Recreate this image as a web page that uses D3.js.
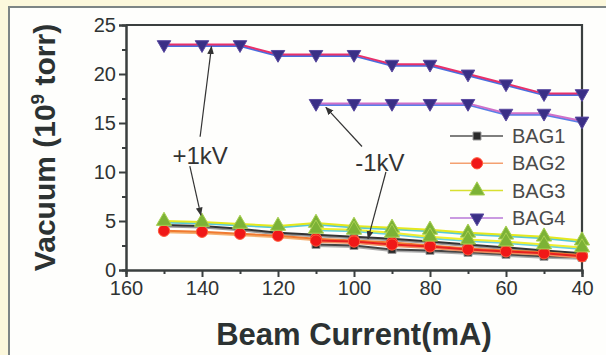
<!DOCTYPE html>
<html>
<head>
<meta charset="utf-8">
<script src="https://cdn.jsdelivr.net/npm/d3@7"></script>
<style>
  body { margin: 0; background: #fcf8dc; }
  svg { display: block; font-family: "Liberation Sans", Arial, sans-serif; }
</style>
</head>
<body>
<div id="chart"></div>
<script>
const margin = {top: 25, right: 24, bottom: 85, left: 126};
const width = 606 - margin.left - margin.right;
const height = 355 - margin.top - margin.bottom;

// beam current (mA)
const currentPlus = [150, 140, 130, 120, 110, 100, 90, 80, 70, 60, 50, 40];
const currentMinus = [110, 100, 90, 80, 70, 60, 50, 40];

// +1kV
const bag1Plus = [4.6, 4.5, 4.2, 3.8, 3.6, 3.4, 3.2, 2.9, 2.6, 2.3, 2.0, 1.7];
const bag2Plus = [4.0, 3.9, 3.7, 3.5, 3.2, 3.0, 2.8, 2.5, 2.2, 2.0, 1.8, 1.5];
const bag3Plus = [5.0, 4.9, 4.7, 4.5, 4.8, 4.5, 4.3, 4.1, 3.8, 3.6, 3.4, 3.0];
const bag4Plus = [23, 23, 23, 22, 22, 22, 21, 21, 20, 19, 18, 18];

// -1kV
const bag1Minus = [2.6, 2.5, 2.1, 2.0, 1.8, 1.6, 1.4, 1.3];
const bag2Minus = [3.0, 2.9, 2.6, 2.4, 2.1, 1.9, 1.7, 1.4];
const bag3Minus = [4.2, 4.1, 3.8, 3.4, 3.1, 2.9, 2.6, 2.3];
const bag4Minus = [17, 17, 17, 17, 17, 16, 16, 15.2];

const xTicks = [160, 140, 120, 100, 80, 60, 40];
const yTicks = [0, 5, 10, 15, 20, 25];
const legendNames = ["BAG1", "BAG2", "BAG3", "BAG4"];

const svg = d3.select("#chart")
  .append("svg")
  .attr("width", 606)
  .attr("height", 355);

// paper frame
svg.append("rect")
  .attr("x", 9).attr("y", 7)
  .attr("width", 640).attr("height", 400)
  .attr("fill", "#fefefc")
  .attr("stroke", "#7d8585")
  .attr("stroke-width", 2);

const g = svg.append("g")
  .attr("transform", `translate(${margin.left},${margin.top})`);

const x = d3.scaleLinear().domain([160, 40]).range([0, width]);
const y = d3.scaleLinear().domain([0, 25]).range([height, 0]);

// minor ticks
const xAxisMinor = d3.axisBottom(x).tickValues(d3.range(150, 40, -20)).tickSize(4).tickFormat("");
const yAxisMinor = d3.axisLeft(y).tickValues(d3.range(2.5, 25, 5)).tickSize(4).tickFormat("");
g.append("g").attr("class", "axis").attr("transform", `translate(0,${height})`).call(xAxisMinor);
g.append("g").attr("class", "axis").call(yAxisMinor);

const xAxis = d3.axisBottom(x).tickValues(xTicks).tickSize(7).tickPadding(4);
const yAxis = d3.axisLeft(y).tickValues(yTicks).tickSize(7).tickPadding(3);

g.append("g")
  .attr("class", "axis")
  .attr("transform", `translate(0,${height})`)
  .call(xAxis);

g.append("g")
  .attr("class", "axis")
  .call(yAxis);

g.selectAll(".axis path, .axis line").attr("stroke", "#3a3f3f").attr("stroke-width", 2);
g.selectAll(".axis text").attr("font-size", 20).attr("fill", "#2f3333").attr("font-family", "Liberation Sans, Arial");

// box top and right
g.append("path")
  .attr("d", `M0,0H${width}V${height}`)
  .attr("fill", "none")
  .attr("stroke", "#3a3f3f")
  .attr("stroke-width", 2.2);

function pts(xs, ys) { return xs.map((d, i) => ({x: d, y: ys[i]})); }

const line = d3.line()
  .x(d => x(d.x))
  .y(d => y(d.y));

const series = [
  {data: pts(currentPlus, bag3Plus), line: "#e4e81e", shadow: "#55c8d8", sym: "tri"},
  {data: pts(currentMinus, bag3Minus), line: "#f0ee30", shadow: "#68d0e0", sym: "tri"},
  {data: pts(currentPlus, bag1Plus), line: "#333", shadow: "#999", sym: "sq"},
  {data: pts(currentMinus, bag1Minus), line: "#444", shadow: "#aaa", sym: "sq"},
  {data: pts(currentPlus, bag2Plus), line: "#f07a30", shadow: "#f4b070", sym: "circ"},
  {data: pts(currentMinus, bag2Minus), line: "#e82020", shadow: "#f09060", sym: "circ"},
  {data: pts(currentPlus, bag4Plus), line: "#e8306a", shadow: "#4a6ee0", sym: "inv"},
  {data: pts(currentMinus, bag4Minus), line: "#d070c8", shadow: "#5a80e8", sym: "inv"}
];

series.forEach(s => {
  g.append("path")
    .datum(s.data)
    .attr("d", line)
    .attr("fill", "none")
    .attr("stroke", s.shadow)
    .attr("stroke-width", 2)
    .attr("transform", "translate(0,1.5)");
  g.append("path")
    .datum(s.data)
    .attr("d", line)
    .attr("fill", "none")
    .attr("stroke", s.line)
    .attr("stroke-width", 2);
});

const symbols = {
  sq: {type: d3.symbolSquare, size: 64, fill: "#2a2a2a", stroke: "#9a9a9a", rot: 0},
  circ: {type: d3.symbolCircle, size: 100, fill: "#f01818", stroke: "#ff5a3a", rot: 0},
  tri: {type: d3.symbolTriangle, size: 100, fill: "#7cb236", stroke: "#a8d050", rot: 0},
  inv: {type: d3.symbolTriangle, size: 80, fill: "#3a2f86", stroke: "#5a4aa0", rot: 180}
};

// draw squares first, then circles, then triangles
["sq", "circ", "tri", "inv"].forEach(key => {
  const sym = symbols[key];
  series.filter(s => s.sym === key).forEach(s => {
    g.selectAll(null)
      .data(s.data)
      .enter()
      .append("path")
      .attr("d", d3.symbol().type(sym.type).size(sym.size))
      .attr("transform", d => `translate(${x(d.x)},${y(d.y)}) rotate(${sym.rot})`)
      .attr("fill", sym.fill)
      .attr("stroke", sym.stroke)
      .attr("stroke-width", 1);
  });
});

// legend
const legend = g.append("g").attr("transform", `translate(${324},${111})`);
const legendLines = ["#555", "#f4a070", "#d8e030", "#b878d8"];
legendNames.forEach((name, i) => {
  const row = legend.append("g").attr("transform", `translate(0,${i * 27.3})`);
  row.append("line")
    .attr("x1", 0).attr("x2", 53)
    .attr("stroke", legendLines[i]).attr("stroke-width", 1.5);
  const sym = symbols[["sq", "circ", "tri", "inv"][i]];
  row.append("path")
    .attr("d", d3.symbol().type(sym.type).size(sym.size))
    .attr("transform", `translate(27,0) rotate(${sym.rot})`)
    .attr("fill", sym.fill)
    .attr("stroke", sym.stroke);
  row.append("text")
    .attr("x", 62).attr("y", 7)
    .attr("font-size", 20)
    .attr("fill", "#4a4a4a")
    .text(name);
});

// annotations
const arrows = [
  {from: [140.5, 13.6], to: [137.5, 22.8]},
  {from: [143.2, 10.6], to: [140.3, 5.6]},
  {from: [97.9, 12.6], to: [107.4, 16.6]},
  {from: [91.6, 10.0], to: [96.3, 3.2]}
];
const labels = [
  {text: "+1kV", at: [140.5, 11.6]},
  {text: "-1kV", at: [93.2, 10.9]}
];

svg.append("defs").append("marker")
  .attr("id", "head")
  .attr("viewBox", "0 0 10 10")
  .attr("refX", 9).attr("refY", 5)
  .attr("markerWidth", 7).attr("markerHeight", 7)
  .attr("orient", "auto")
  .append("path")
  .attr("d", "M0,1L10,5L0,9Z")
  .attr("fill", "#333");

arrows.forEach(a => {
  g.append("line")
    .attr("x1", x(a.from[0])).attr("y1", y(a.from[1]))
    .attr("x2", x(a.to[0])).attr("y2", y(a.to[1]))
    .attr("stroke", "#333")
    .attr("stroke-width", 1.2)
    .attr("marker-end", "url(#head)");
});

labels.forEach(l => {
  g.append("text")
    .attr("x", x(l.at[0])).attr("y", y(l.at[1]) + 8)
    .attr("text-anchor", "middle")
    .attr("font-size", 24)
    .attr("fill", "#333")
    .text(l.text);
});

// axis titles
svg.append("text")
  .attr("x", margin.left + width / 2)
  .attr("y", 345)
  .attr("text-anchor", "middle")
  .attr("font-size", 31)
  .attr("font-weight", "bold")
  .attr("fill", "#2c3232")
  .text("Beam Current(mA)");

const yt = svg.append("text")
  .attr("transform", `translate(55,${margin.top + height / 2}) rotate(-90)`)
  .attr("text-anchor", "middle")
  .attr("font-size", 30)
  .attr("font-weight", "bold")
  .attr("fill", "#2c3232");
yt.append("tspan").text("Vacuum (10");
yt.append("tspan").attr("dy", -11).attr("font-size", 19).text("9");
yt.append("tspan").attr("dy", 11).text(" torr)");
</script>
</body>
</html>
